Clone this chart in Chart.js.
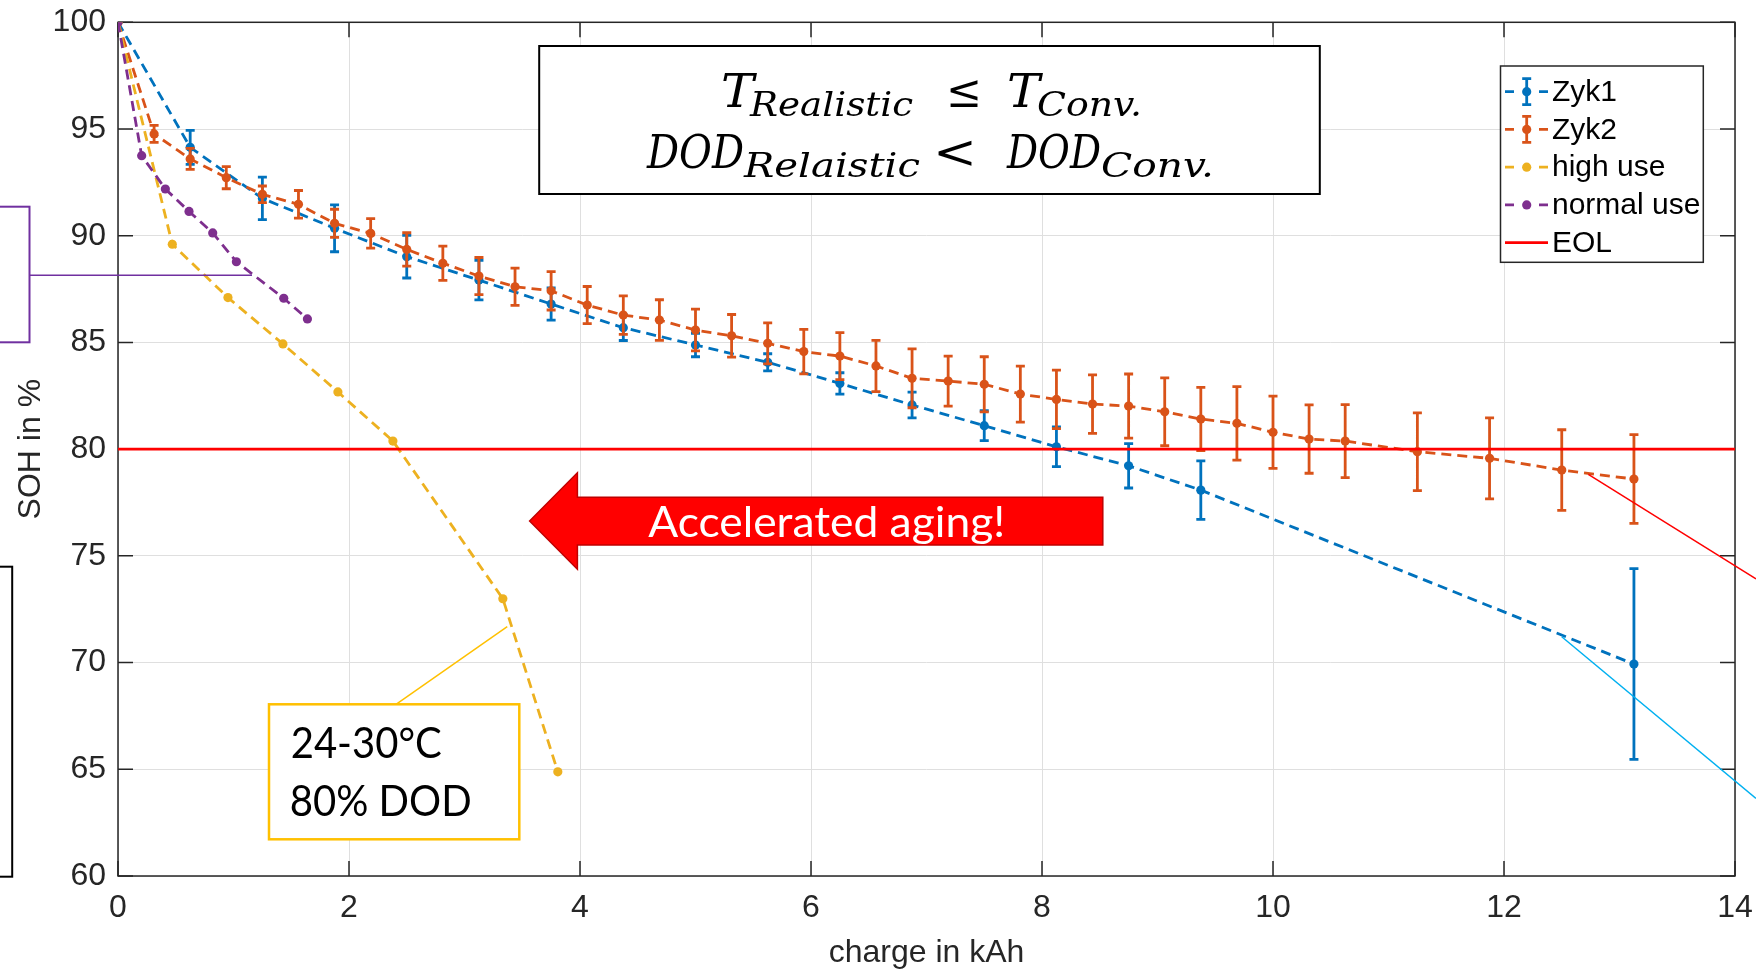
<!DOCTYPE html>
<html>
<head>
<meta charset="utf-8">
<style>
  html, body { margin: 0; padding: 0; background: #ffffff; }
  #wrap { width: 1756px; height: 973px; position: relative; }
</style>
<script src="https://cdn.jsdelivr.net/npm/chart.js@4.4.1/dist/chart.umd.min.js"></script>
</head>
<body>
<div id="wrap"><canvas id="soh" width="1756" height="973"></canvas></div>
<script>
// ---- measured state of health vs. charge throughput ----
const zyk1Charge = [0, 0.625, 1.25, 1.875, 2.5, 3.125, 3.75, 4.375, 5.0, 5.625, 6.25, 6.875, 7.5, 8.125, 8.75, 9.375, 13.125];
const zyk1Soh    = [100, 94.14, 91.75, 90.35, 89.02, 87.92, 86.8, 85.69, 84.88, 84.07, 83.08, 82.07, 81.1, 80.11, 79.22, 78.08, 69.93];
const zyk1Err    = [0, 0.8, 1.0, 1.1, 1.0, 0.93, 0.75, 0.6, 0.55, 0.4, 0.5, 0.6, 0.7, 0.93, 1.04, 1.37, 4.47];

const zyk2Charge = [0, 0.3125, 0.625, 0.9375, 1.25, 1.5625, 1.875, 2.1875, 2.5, 2.8125, 3.125, 3.4375, 3.75, 4.0625, 4.375, 4.6875, 5.0, 5.3125, 5.625, 5.9375, 6.25, 6.5625, 6.875, 7.1875, 7.5, 7.8125, 8.125, 8.4375, 8.75, 9.0625, 9.375, 9.6875, 10.0, 10.3125, 10.625, 11.25, 11.875, 12.5, 13.125];
const zyk2Soh    = [100, 94.77, 93.6, 92.72, 91.94, 91.47, 90.58, 90.11, 89.36, 88.71, 88.11, 87.61, 87.42, 86.75, 86.28, 86.05, 85.58, 85.31, 84.96, 84.57, 84.36, 83.9, 83.32, 83.19, 83.04, 82.58, 82.33, 82.11, 82.02, 81.75, 81.41, 81.21, 80.79, 80.47, 80.38, 79.88, 79.57, 79.02, 78.6];
const zyk2Err    = [0, 0.4, 0.49, 0.52, 0.39, 0.65, 0.66, 0.69, 0.78, 0.8, 0.87, 0.87, 0.9, 0.87, 0.9, 0.95, 0.98, 1.0, 0.96, 1.04, 1.1, 1.2, 1.38, 1.17, 1.29, 1.31, 1.37, 1.37, 1.5, 1.59, 1.48, 1.72, 1.69, 1.6, 1.71, 1.82, 1.9, 1.89, 2.08];

const highUseCharge = [0, 0.47, 0.952, 1.428, 1.904, 2.38, 3.332, 3.808];
const highUseSoh    = [100, 89.6, 87.1, 84.93, 82.68, 80.38, 72.99, 64.88];

const normalUseCharge = [0, 0.205, 0.41, 0.615, 0.82, 1.025, 1.435, 1.64];
const normalUseSoh    = [100, 93.75, 92.19, 91.14, 90.13, 88.78, 87.07, 86.1];

const eolCharge = [0, 14];
const eolSoh    = [80, 80];

const xTickValues = [0, 2, 4, 6, 8, 10, 12, 14];
const yTickValues = [60, 65, 70, 75, 80, 85, 90, 95, 100];

const seriesLabels = ['Zyk1', 'Zyk2', 'high use', 'normal use', 'EOL'];

// ---- colours ----
const C_BLUE = '#0072BD', C_ORANGE = '#D95319', C_YELLOW = '#EDB120', C_PURPLE = '#7E2F8E', C_RED = '#FF0000';
const AXIS_COLOR = '#262626';
const SANS = '"Liberation Sans", Arial, sans-serif';

const toPoints = (xs, ys) => xs.map((x, i) => ({ x, y: ys[i] }));

function dashedSeries(label, xs, ys, color, order, errors) {
  return {
    label, data: toPoints(xs, ys), order, errors,
    borderColor: color, backgroundColor: color,
    borderWidth: 2.8, borderDash: [10, 6],
    pointRadius: 4.6, pointBorderWidth: 0, pointBackgroundColor: color,
    tension: 0, fill: false
  };
}

// draw a string so that it fills a given horizontal span
function spanText(ctx, text, font, xLeft, width, baseline, color) {
  ctx.save();
  ctx.font = font;
  ctx.textAlign = 'left';
  ctx.textBaseline = 'alphabetic';
  const w = ctx.measureText(text).width;
  ctx.translate(xLeft, baseline);
  if (width) ctx.scale(width / w, 1);
  ctx.fillStyle = color;
  ctx.fillText(text, 0, 0);
  ctx.restore();
}

const decorations = {
  id: 'decorations',
  beforeDatasetsDraw(chart) {
    const { ctx, chartArea: a, scales: { x, y } } = chart;
    ctx.save();
    ctx.strokeStyle = AXIS_COLOR;
    ctx.lineWidth = 1.5;
    ctx.strokeRect(a.left, a.top, a.right - a.left, a.bottom - a.top);
    ctx.beginPath();
    const tl = 15;
    xTickValues.forEach(v => {
      const px = x.getPixelForValue(v);
      ctx.moveTo(px, a.bottom); ctx.lineTo(px, a.bottom - tl);
      ctx.moveTo(px, a.top); ctx.lineTo(px, a.top + tl);
    });
    yTickValues.forEach(v => {
      const py = y.getPixelForValue(v);
      ctx.moveTo(a.left, py); ctx.lineTo(a.left + tl, py);
      ctx.moveTo(a.right, py); ctx.lineTo(a.right - tl, py);
    });
    ctx.stroke();
    ctx.restore();
  },
  afterDatasetDraw(chart, args) {
    const ds = chart.data.datasets[args.index];
    if (!ds.errors) return;
    const { ctx, scales: { x, y } } = chart;
    ctx.save();
    ctx.strokeStyle = ds.borderColor;
    ctx.lineWidth = 2.8;
    ctx.setLineDash([]);
    ctx.beginPath();
    ds.data.forEach((p, i) => {
      const e = ds.errors[i];
      if (!e) return;
      const px = x.getPixelForValue(p.x);
      const top = y.getPixelForValue(p.y + e);
      const bot = y.getPixelForValue(p.y - e);
      ctx.moveTo(px, top); ctx.lineTo(px, bot);
      ctx.moveTo(px - 4.5, top); ctx.lineTo(px + 4.5, top);
      ctx.moveTo(px - 4.5, bot); ctx.lineTo(px + 4.5, bot);
    });
    ctx.stroke();
    ctx.restore();
  },
  afterDraw(chart) {
    const { ctx, scales: { x, y } } = chart;
    ctx.save();
    ctx.setLineDash([]);

    // side frames (partly outside the canvas)
    ctx.lineWidth = 2;
    ctx.strokeStyle = '#7030A0';
    ctx.strokeRect(-10, 206.7, 39.5, 135.6);
    ctx.lineWidth = 1.5;
    ctx.beginPath();
    const py = y.getPixelForValue(88.15);
    ctx.moveTo(29.5, py);
    ctx.lineTo(x.getPixelForValue(1.16), py);
    ctx.stroke();
    ctx.lineWidth = 2;
    ctx.strokeStyle = '#000000';
    ctx.strokeRect(-10, 566.7, 22.2, 310);

    // pointer lines towards the end of the measured curves
    ctx.lineWidth = 1.5;
    ctx.strokeStyle = C_RED;
    let sx = x.getPixelForValue(12.73), sy = y.getPixelForValue(78.82);
    ctx.beginPath(); ctx.moveTo(sx, sy); ctx.lineTo(1756, sy + (1756 - sx) * 0.624); ctx.stroke();
    ctx.strokeStyle = '#00B0F0';
    sx = x.getPixelForValue(12.5); sy = y.getPixelForValue(71.21);
    ctx.beginPath(); ctx.moveTo(sx, sy); ctx.lineTo(1756, sy + (1756 - sx) * 0.832); ctx.stroke();

    // condition box
    ctx.fillStyle = '#ffffff';
    ctx.fillRect(539.2, 46, 780.6, 148);
    ctx.lineWidth = 2;
    ctx.strokeStyle = '#000000';
    ctx.strokeRect(539.2, 46, 780.6, 148);
    const MI = 'italic 46px "DejaVu Serif", serif';
    const SI = 'italic 33px "DejaVu Serif", serif';
    const MU = '46px "DejaVu Serif", serif';
    spanText(ctx, 'T', MI, 721, 33, 107, '#000');
    spanText(ctx, 'Realistic', SI, 750, 163, 116, '#000');
    spanText(ctx, '\u2264', MU, 946, 36, 107, '#000');
    spanText(ctx, 'T', MI, 1007, 33, 107, '#000');
    spanText(ctx, 'Conv.', SI, 1037, 105, 116, '#000');
    spanText(ctx, 'DOD', MI, 647, 97, 168, '#000');
    spanText(ctx, 'Relaistic', SI, 744, 176, 177, '#000');
    spanText(ctx, '<', MU, 933, 44, 168, '#000');
    spanText(ctx, 'DOD', MI, 1007, 94, 168, '#000');
    spanText(ctx, 'Conv.', SI, 1101, 113, 177, '#000');

    // legend
    ctx.fillStyle = '#ffffff';
    ctx.fillRect(1500.5, 66, 202.8, 196.3);
    ctx.lineWidth = 1.5;
    ctx.strokeStyle = AXIS_COLOR;
    ctx.strokeRect(1500.5, 66, 202.8, 196.3);
    const legendColors = [C_BLUE, C_ORANGE, C_YELLOW, C_PURPLE, C_RED];
    seriesLabels.forEach((label, i) => {
      const cy = 91.7 + i * 37.75;
      const col = legendColors[i];
      ctx.strokeStyle = col;
      ctx.fillStyle = col;
      ctx.lineWidth = 2.8;
      ctx.beginPath();
      if (i === 4) {
        ctx.moveTo(1505, cy); ctx.lineTo(1548, cy);
      } else {
        ctx.moveTo(1505, cy); ctx.lineTo(1514, cy);
        ctx.moveTo(1539, cy); ctx.lineTo(1548, cy);
      }
      ctx.stroke();
      if (i < 4) {
        ctx.beginPath(); ctx.arc(1526.7, cy, 4.6, 0, Math.PI * 2); ctx.fill();
      }
      if (i < 2) {
        ctx.beginPath();
        ctx.moveTo(1526.7, cy - 13); ctx.lineTo(1526.7, cy + 13);
        ctx.moveTo(1522.2, cy - 13); ctx.lineTo(1531.2, cy - 13);
        ctx.moveTo(1522.2, cy + 13); ctx.lineTo(1531.2, cy + 13);
        ctx.stroke();
      }
      ctx.fillStyle = '#000000';
      ctx.font = '30px ' + SANS;
      ctx.textBaseline = 'middle';
      ctx.textAlign = 'left';
      ctx.fillText(label, 1552, cy + 1);
    });

    // arrow
    ctx.beginPath();
    ctx.moveTo(529.6, 521);
    ctx.lineTo(577.4, 472.7);
    ctx.lineTo(577.4, 497.3);
    ctx.lineTo(1102.8, 497.3);
    ctx.lineTo(1102.8, 545);
    ctx.lineTo(577.4, 545);
    ctx.lineTo(577.4, 569.3);
    ctx.closePath();
    ctx.fillStyle = '#FF0000';
    ctx.fill();
    ctx.lineWidth = 1.5;
    ctx.strokeStyle = '#C00000';
    ctx.stroke();
    spanText(ctx, 'Accelerated aging!', '43px Lato, "Open Sans", sans-serif', 648.2, 357, 536.7, '#ffffff');

    // test condition box
    ctx.strokeStyle = '#FFC000';
    ctx.lineWidth = 1.5;
    ctx.beginPath();
    ctx.moveTo(396, 704.3);
    ctx.lineTo(x.getPixelForValue(3.37), y.getPixelForValue(71.68));
    ctx.stroke();
    ctx.fillStyle = '#ffffff';
    ctx.fillRect(269, 704.3, 250.3, 135);
    ctx.lineWidth = 2.5;
    ctx.strokeRect(269, 704.3, 250.3, 135);
    spanText(ctx, '24-30\u00B0C', '42px Lato, "Open Sans", sans-serif', 290.7, 151, 758.3, '#000000');
    spanText(ctx, '80% DOD', '42px Lato, "Open Sans", sans-serif', 289.7, 182, 816, '#000000');

    ctx.restore();
  }
};

new Chart(document.getElementById('soh'), {
  type: 'line',
  data: {
    datasets: [
      dashedSeries(seriesLabels[0], zyk1Charge, zyk1Soh, C_BLUE, 5, zyk1Err),
      dashedSeries(seriesLabels[1], zyk2Charge, zyk2Soh, C_ORANGE, 4, zyk2Err),
      dashedSeries(seriesLabels[2], highUseCharge, highUseSoh, C_YELLOW, 3),
      dashedSeries(seriesLabels[3], normalUseCharge, normalUseSoh, C_PURPLE, 2),
      {
        label: seriesLabels[4], data: toPoints(eolCharge, eolSoh), order: 1,
        borderColor: C_RED, borderWidth: 2.7, pointRadius: 0, fill: false
      }
    ]
  },
  options: {
    responsive: false,
    animation: false,
    devicePixelRatio: 1,
    events: [],
    layout: { padding: { top: 22.3, right: 21, left: 0, bottom: 0 }, autoPadding: false },
    plugins: { legend: { display: false }, tooltip: { enabled: false } },
    scales: {
      x: {
        type: 'linear', min: 0, max: 14,
        afterBuildTicks: s => { s.ticks = xTickValues.map(v => ({ value: v })); },
        afterFit: s => { s.height = 97; s.paddingLeft = 0; s.paddingRight = 0; },
        grid: { color: '#dfdfdf', lineWidth: 1, drawTicks: false },
        border: { display: false },
        ticks: { padding: 13, color: AXIS_COLOR, font: { family: SANS, size: 32 }, maxRotation: 0, autoSkip: false },
        title: { display: true, text: 'charge in kAh', color: AXIS_COLOR, font: { family: SANS, size: 32 }, padding: { top: 0, bottom: 1 } }
      },
      y: {
        type: 'linear', min: 60, max: 100,
        afterBuildTicks: s => { s.ticks = yTickValues.map(v => ({ value: v })); },
        afterFit: s => { s.width = 118; s.paddingTop = 0; s.paddingBottom = 0; },
        grid: { color: '#dfdfdf', lineWidth: 1, drawTicks: false },
        border: { display: false },
        ticks: { padding: 12, color: AXIS_COLOR, font: { family: SANS, size: 32 }, autoSkip: false },
        title: { display: true, text: 'SOH in %', color: AXIS_COLOR, font: { family: SANS, size: 32 }, padding: { top: 12, bottom: 0 } }
      }
    }
  },
  plugins: [decorations]
});
</script>
</body>
</html>
